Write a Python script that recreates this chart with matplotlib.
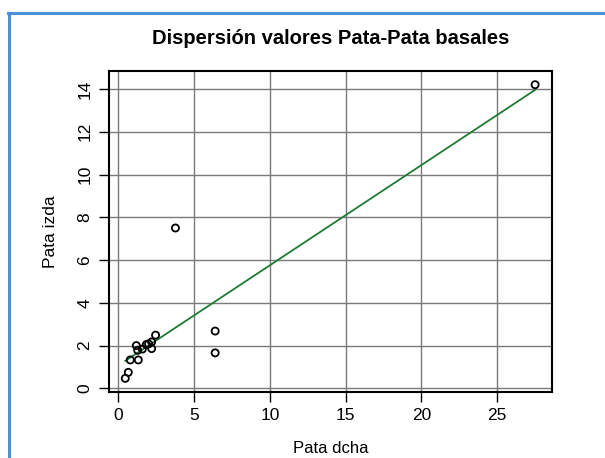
import numpy as np
import matplotlib
matplotlib.use("Agg")
import matplotlib.pyplot as plt
from matplotlib.lines import Line2D

# valores
pata_dcha = [0.46, 0.66, 0.79, 1.32, 1.19, 1.28, 1.59, 1.85, 2.0, 2.2, 2.2, 2.46,
             6.39, 6.39, 3.77, 27.5]
pata_izda = [0.47, 0.75, 1.33, 1.33, 2.0, 1.78, 1.84, 2.05, 2.08, 2.17, 1.86, 2.49,
             2.68, 1.66, 7.5, 14.2]
x_ticks = [0, 5, 10, 15, 20, 25]
y_ticks = [0, 2, 4, 6, 8, 10, 12, 14]

plt.rcParams['font.family'] = ['Liberation Sans', 'DejaVu Sans']

fig = plt.figure(figsize=(6.05, 4.58), dpi=100)
ax = fig.add_axes([0.180, 0.145, 0.732, 0.699])

x = np.array(pata_dcha)
y = np.array(pata_izda)

# recta de regresion
b, a = np.polyfit(x, y, 1)
xs = np.array([x.min(), x.max()])
ax.plot(xs, a + b * xs, color='#1f7a34', lw=1.3, zorder=3)

ax.scatter(x, y, s=26, facecolors='none', edgecolors='black', linewidths=1.3, zorder=4)

ax.set_xlim(-0.62, 28.6)
ax.set_ylim(-0.15, 14.82)
ax.set_xticks(x_ticks)
ax.set_yticks(y_ticks)
ax.grid(True, color='#7a7a7a', lw=1.0)
ax.set_axisbelow(True)
for s in ax.spines.values():
    s.set_linewidth(1.5)
ax.tick_params(direction='out', length=7, width=1.0, labelsize=12.5, pad=5)
plt.setp(ax.get_yticklabels(), rotation=90, va='center')

ax.set_title('Dispersión valores Pata-Pata basales', fontsize=14.5, fontweight='bold', pad=20)
ax.set_xlabel('Pata dcha', fontsize=12, labelpad=13)
ax.set_ylabel('Pata izda', fontsize=12.5, labelpad=14)

# marco azul
fig.add_artist(Line2D([8 / 605, 1], [1 - 13 / 458, 1 - 13 / 458], color='#4a8fd8', lw=2.2))
fig.add_artist(Line2D([9 / 605, 9 / 605], [0, 1 - 13 / 458], color='#4a8fd8', lw=2.2))

fig.savefig('out.png', dpi=100)
